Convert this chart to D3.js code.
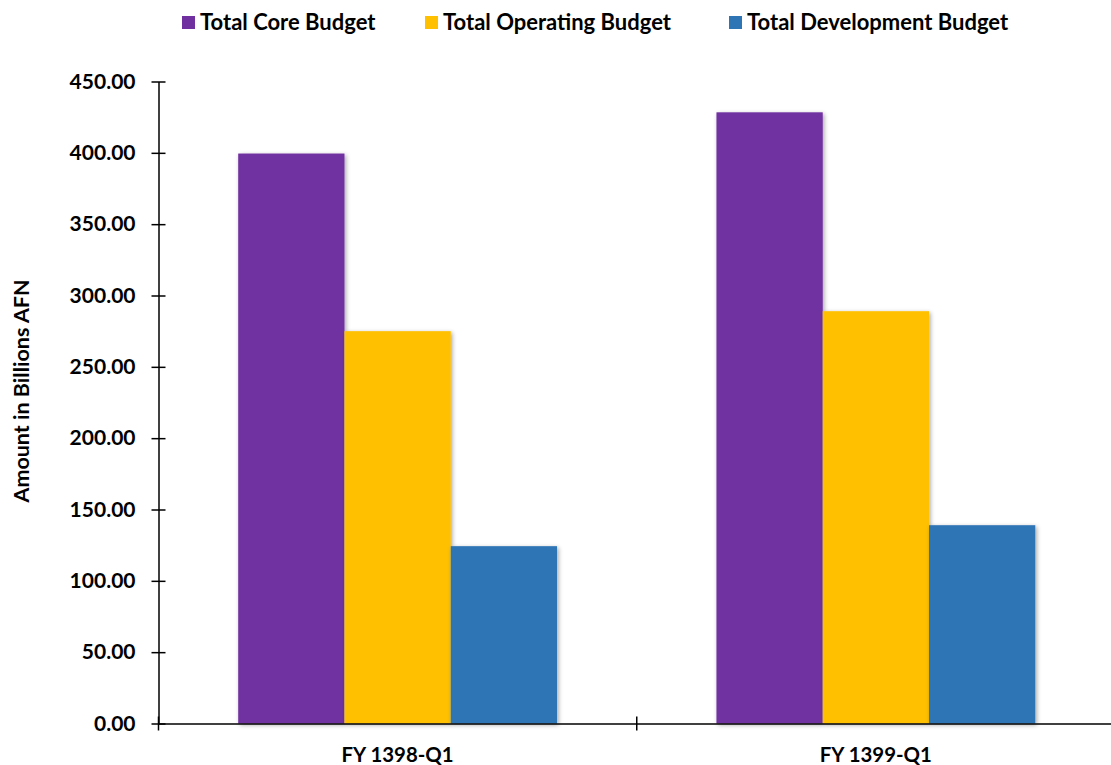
<html>
<head>
<meta charset="utf-8">
<style>
  body { margin: 0; background: #fff; }
  text { font-family: Lato, "Open Sans", sans-serif; font-weight: 700; fill: #000; }
</style>
</head>
<body>
<script src="https://cdn.jsdelivr.net/npm/d3@7"></script>
<div id="chart"></div>
<script>
// data
var categories = ["FY 1398-Q1", "FY 1399-Q1"];
var seriesNames = ["Total Core Budget", "Total Operating Budget", "Total Development Budget"];
var coreBudget = [399.5, 428.4];
var operatingBudget = [275.0, 289.0];
var developmentBudget = [124.3, 139.0];
var yTicks = [0, 50, 100, 150, 200, 250, 300, 350, 400, 450];
var colors = ["#7030A0", "#FFC000", "#2E75B6"];

(function() {
var seriesValues = [coreBudget, operatingBudget, developmentBudget];
var rows = categories.map(function(c, i) {
  return { cat: c, vals: seriesNames.map(function(s, j) { return { key: s, value: seriesValues[j][i] }; }) };
});

var W = 1111, H = 765;
var plotLeft = 158.5, plotRight = 1115, plotTop = 81.5, plotBottom = 723.5;

var svg = d3.select("#chart").append("svg")
  .attr("width", W).attr("height", H);

var defs = svg.append("defs");
var f = defs.append("filter").attr("id", "shadow")
  .attr("x", "-20%").attr("y", "-20%").attr("width", "140%").attr("height", "140%");
f.append("feDropShadow").attr("dx", 1.5).attr("dy", 1.5)
  .attr("stdDeviation", 2.2).attr("flood-color", "#000").attr("flood-opacity", 0.35);

var y = d3.scaleLinear().domain([0, 450]).range([plotBottom, plotTop]);
var x0 = d3.scaleBand().domain(categories).range([plotLeft, plotRight]).padding(0);
var x1 = d3.scaleBand().domain(seriesNames).range([0, x0.bandwidth()])
  .paddingInner(0).paddingOuter(0.75);
var color = d3.scaleOrdinal().domain(seriesNames).range(colors);

// bars
var groups = svg.selectAll("g.grp").data(rows).enter().append("g")
  .attr("class", "grp")
  .attr("transform", function(d) { return "translate(" + x0(d.cat) + ",0)"; });
groups.selectAll("rect").data(function(d) { return d.vals; }).enter().append("rect")
  .attr("x", function(d) { return x1(d.key); })
  .attr("width", x1.bandwidth())
  .attr("y", function(d) { return y(d.value); })
  .attr("height", function(d) { return plotBottom - y(d.value); })
  .attr("fill", function(d) { return color(d.key); })
  .attr("filter", "url(#shadow)");

// y axis
var yAxis = svg.append("g")
  .attr("transform", "translate(" + plotLeft + ",0)")
  .call(d3.axisLeft(y).tickValues(yTicks).tickFormat(d3.format(".2f"))
    .tickSize(7).tickSizeOuter(0).tickPadding(16));
yAxis.select(".domain").attr("stroke", "#000").attr("stroke-width", 1.5);
yAxis.selectAll(".tick line").attr("x1", 7).attr("stroke", "#000").attr("stroke-width", 1.5);
yAxis.selectAll(".tick text").style("font-size", "21px").attr("font-family", null);

// x axis
var xAxis = svg.append("g")
  .attr("transform", "translate(0," + plotBottom + ")")
  .call(d3.axisBottom(x0).tickSize(0).tickSizeOuter(0).tickPadding(24));
xAxis.select(".domain").attr("stroke", "#000").attr("stroke-width", 1.5);
xAxis.selectAll(".tick text").style("font-size", "20.4px").attr("font-family", null);
// boundary ticks between categories
var bounds = categories.map(function(c) { return x0(c); }).concat([x0.range()[1]]);
xAxis.selectAll("line.bound").data(bounds).enter().append("line")
  .attr("class", "bound")
  .attr("x1", function(d) { return d; }).attr("x2", function(d) { return d; })
  .attr("y1", -7).attr("y2", 7)
  .attr("stroke", "#000").attr("stroke-width", 1.5);

// y axis title
svg.append("text")
  .attr("transform", "translate(29,391) rotate(-90)")
  .attr("text-anchor", "middle")
  .style("font-size", "21.5px")
  .text("Amount in Billions AFN");

// legend
var legendX = [182, 425, 729];
var legend = svg.selectAll("g.leg").data(seriesNames).enter().append("g")
  .attr("class", "leg")
  .attr("transform", function(d, i) { return "translate(" + legendX[i] + ",0)"; });
legend.append("rect")
  .attr("x", 0).attr("y", 16).attr("width", 13).attr("height", 13)
  .attr("fill", function(d) { return color(d); });
legend.append("text")
  .attr("x", 18).attr("y", 30)
  .style("font-size", "22px")
  .text(function(d) { return d; });
})();
</script>
</body>
</html>
